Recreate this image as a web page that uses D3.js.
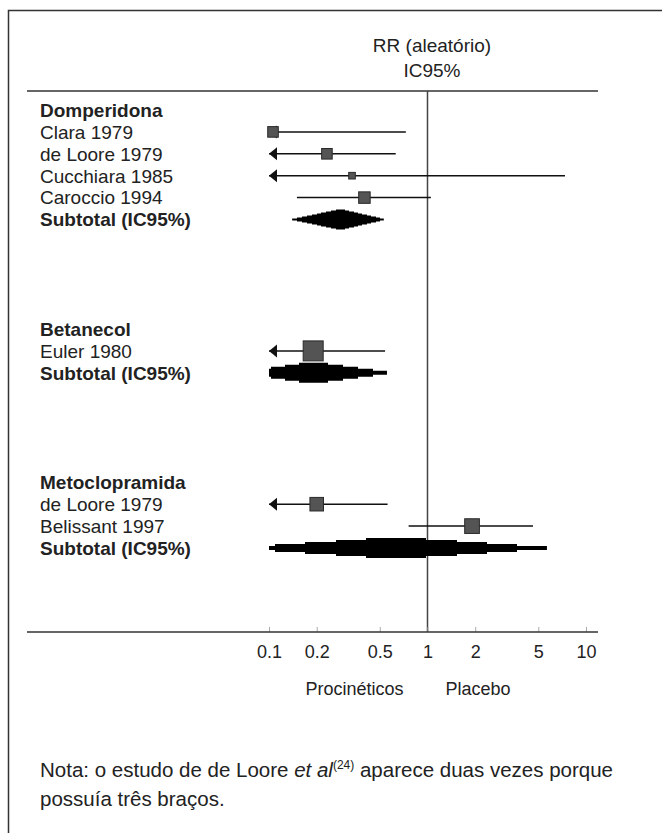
<!DOCTYPE html>
<html>
<head>
<meta charset="utf-8">
<script src="https://cdn.jsdelivr.net/npm/d3@7"></script>
<style>
  body { margin: 0; background: #fff; }
  svg { display: block; font-family: "Liberation Sans", Arial, sans-serif; }
</style>
</head>
<body>
<script>
// groups and studies (RR with IC95%)
var groups = ["Domperidona", "Betanecol", "Metoclopramida"];
var studyNames = ["Clara 1979", "de Loore 1979", "Cucchiara 1985", "Caroccio 1994", "Euler 1980", "de Loore 1979", "Belissant 1997"];
var studyGroup = [0, 0, 0, 0, 1, 2, 2];
var studyRR   = [0.106, 0.232, 0.334, 0.40, 0.19, 0.20, 1.91];
var studyLow  = [0.015, 0.085, 0.015, 0.150, 0.067, 0.072, 0.76];
var studyHigh = [0.73, 0.63, 7.37, 1.05, 0.54, 0.56, 4.63];
var studyWeight = [28, 28, 11, 33, 100, 46, 54];

var subtotalLabel = "Subtotal (IC95%)";
var subtotalRR   = [0.28, 0.19, 0.63];
var subtotalLow  = [0.14, 0.067, 0.07];
var subtotalHigh = [0.53, 0.555, 5.67];

var axisTicks = [0.1, 0.2, 0.5, 1, 2, 5, 10];
var headerLines = ["RR (aleatório)", "IC95%"];
var sideLabels = ["Procinéticos", "Placebo"];

var width = 662, height = 833;

var svg = d3.select("body").append("svg")
    .attr("width", width)
    .attr("height", height);

// frame (only top and left edges show in the picture)
svg.append("path")
    .attr("d", "M8.5," + height + "V10.5H" + width)
    .attr("fill", "none")
    .attr("stroke", "#333")
    .attr("stroke-width", 1.5);

var x = d3.scaleLog().domain([0.1, 10]).range([269, 586]);
var y = d3.scaleLinear().domain([0, 1]).range([110, 131.9]);
var size = d3.scaleSqrt().domain([0, 100]).range([0, 20]);

var headerY = 91, axisY = 632;

// build the rows: group title, studies, subtotal, then a gap
var rows = [];
var r = 0;
groups.forEach(function(g, gi) {
    rows.push({type: "group", label: g, row: r++});
    studyNames.forEach(function(n, i) {
        if (studyGroup[i] !== gi) return;
        rows.push({type: "study", label: n, row: r++, rr: studyRR[i], lo: studyLow[i], hi: studyHigh[i], w: studyWeight[i]});
    });
    rows.push({type: "subtotal", label: subtotalLabel, row: r++, rr: subtotalRR[gi], lo: subtotalLow[gi], hi: subtotalHigh[gi]});
    r += 4;
});

// header
svg.append("text")
    .attr("x", 432).attr("y", 52)
    .attr("text-anchor", "middle")
    .attr("font-size", 19)
    .attr("fill", "#222")
    .selectAll("tspan")
    .data(headerLines)
    .enter().append("tspan")
    .attr("x", 432)
    .attr("dy", function(d, i) { return i ? 25 : 0; })
    .text(function(d) { return d; });

svg.append("line")
    .attr("x1", 27).attr("x2", 598)
    .attr("y1", headerY).attr("y2", headerY)
    .attr("stroke", "#333").attr("stroke-width", 1.5);

// line of no effect
svg.append("line")
    .attr("x1", x(1)).attr("x2", x(1))
    .attr("y1", headerY).attr("y2", axisY)
    .attr("stroke", "#444").attr("stroke-width", 1.5);

// row labels
svg.append("g")
    .selectAll("text")
    .data(rows)
    .enter().append("text")
    .attr("x", 40)
    .attr("y", function(d) { return y(d.row); })
    .attr("dy", "0.36em")
    .attr("font-size", 19)
    .attr("font-weight", function(d) { return d.type === "study" ? "normal" : "bold"; })
    .attr("fill", "#222")
    .text(function(d) { return d.label; });

var studies = rows.filter(function(d) { return d.type === "study"; });
var xmin = x.range()[0], xmax = x.range()[1];

// CI lines
svg.append("g")
    .selectAll("line")
    .data(studies)
    .enter().append("line")
    .attr("x1", function(d) { return Math.max(x(d.lo), xmin); })
    .attr("x2", function(d) { return Math.min(x(d.hi), xmax); })
    .attr("y1", function(d) { return y(d.row); })
    .attr("y2", function(d) { return y(d.row); })
    .attr("stroke", "#111").attr("stroke-width", 1.5);

// arrows where the interval runs past 0.1
svg.append("g")
    .selectAll("path")
    .data(studies.filter(function(d) { return d.lo < 0.1; }))
    .enter().append("path")
    .attr("d", function(d) {
        var cy = y(d.row);
        return "M" + xmin + "," + cy + "L" + (xmin + 8) + "," + (cy - 6.5) + "L" + (xmin + 8) + "," + (cy + 6.5) + "Z";
    })
    .attr("fill", "#111");

// weight squares
svg.append("g")
    .selectAll("rect")
    .data(studies)
    .enter().append("rect")
    .attr("x", function(d) { return x(d.rr) - size(d.w) / 2; })
    .attr("y", function(d) { return y(d.row) - size(d.w) / 2; })
    .attr("width", function(d) { return size(d.w); })
    .attr("height", function(d) { return size(d.w); })
    .attr("fill", "#545454")
    .attr("stroke", "#2a2a2a")
    .attr("stroke-width", 1);

// subtotal diamonds, drawn stepped like the printed figure
// (wide ones show coarse steps, the narrow one is nearly smooth)
var diamondH = 20;
var area = d3.area()
    .x(function(p) { return p[0]; })
    .y0(function(p) { return p[1] - p[2]; })
    .y1(function(p) { return p[1] + p[2]; })
    .curve(d3.curveStepAfter);

svg.append("g")
    .selectAll("path")
    .data(rows.filter(function(d) { return d.type === "subtotal"; }))
    .enter().append("path")
    .attr("d", function(d) {
        var xl = x(d.lo), xm = x(d.rr), xh = x(d.hi), cy = y(d.row);
        var a = Math.max(xl, xmin), b = Math.min(xh, xmax);
        var levels = (b - a) < 100 ? 10 : 5;
        var pts = d3.range(Math.floor(a), Math.ceil(b) + 1).map(function(px) {
            px = Math.min(Math.max(px, a), b);
            var f = px < xm ? (px - xl) / (xm - xl) : (xh - px) / (xh - xm);
            var lv = Math.max(1, Math.ceil(f * levels)) / levels;
            return [px, cy, diamondH / 2 * lv];
        });
        return area(pts);
    })
    .attr("fill", "#000");

// x axis
var axis = svg.append("g")
    .attr("transform", "translate(0," + axisY + ")")
    .call(d3.axisBottom(x).tickValues(axisTicks).tickFormat(d3.format("~g")).tickSize(-5).tickPadding(13));
axis.select(".domain").remove();
axis.selectAll(".tick line").attr("stroke", "#aaa");
axis.selectAll(".tick text")
    .attr("font-size", 18)
    .attr("font-family", "Liberation Sans, Arial, sans-serif")
    .attr("fill", "#222");
svg.append("line")
    .attr("x1", 27).attr("x2", 598)
    .attr("y1", axisY).attr("y2", axisY)
    .attr("stroke", "#333").attr("stroke-width", 1.5);

svg.append("text")
    .attr("x", x(1) - 24).attr("y", 695)
    .attr("text-anchor", "end")
    .attr("font-size", 18)
    .attr("fill", "#222")
    .text(sideLabels[0]);
svg.append("text")
    .attr("x", x(1) + 18).attr("y", 695)
    .attr("font-size", 18)
    .attr("fill", "#222")
    .text(sideLabels[1]);

// note below the chart
var note = svg.append("text")
    .attr("x", 40).attr("y", 777)
    .attr("font-size", 20.5)
    .attr("fill", "#222");
note.append("tspan").text("Nota: o estudo de de Loore ");
note.append("tspan").attr("font-style", "italic").text("et al");
note.append("tspan").attr("font-size", 12).attr("dy", -8).text("(24)");
note.append("tspan").attr("dy", 8).text(" aparece duas vezes porque");
svg.append("text")
    .attr("x", 40).attr("y", 806)
    .attr("font-size", 20.5)
    .attr("fill", "#222")
    .text("possuía três braços.");
</script>
</body>
</html>
